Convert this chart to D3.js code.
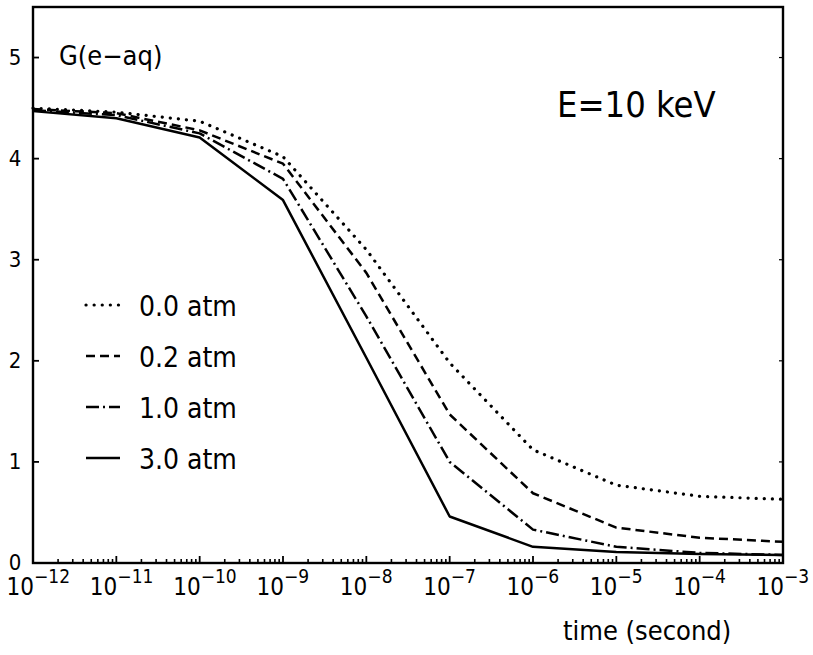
<!DOCTYPE html>
<html>
<head>
<meta charset="utf-8">
<script src="https://cdn.jsdelivr.net/npm/d3@7"></script>
<style>
	body { margin: 0; background: #fff; }
	svg text { font-family: "DejaVu Sans Condensed", "DejaVu Sans", sans-serif; fill: #000; }
</style>
</head>
<body>
<div id="chart"></div>
<script>
// time points (s), one per decade
const times = [1e-12, 1e-11, 1e-10, 1e-9, 1e-8, 1e-7, 1e-6, 1e-5, 1e-4, 1e-3];

// G(e-aq) for each pressure
const g00 = [4.50, 4.46, 4.37, 4.02, 3.10, 1.98, 1.12, 0.77, 0.66, 0.63];
const g02 = [4.49, 4.45, 4.28, 3.95, 2.87, 1.47, 0.69, 0.35, 0.25, 0.21];
const g10 = [4.48, 4.43, 4.25, 3.80, 2.44, 1.00, 0.33, 0.16, 0.10, 0.08];
const g30 = [4.47, 4.40, 4.21, 3.59, 2.03, 0.46, 0.16, 0.11, 0.09, 0.08];

const seriesLabels = ["0.0 atm", "0.2 atm", "1.0 atm", "3.0 atm"];
const yTicks = [0, 1, 2, 3, 4, 5];
const xExponents = [-12, -11, -10, -9, -8, -7, -6, -5, -4, -3];

const series = [
	{ label: seriesLabels[0], values: g00, dash: "0.1 8", width: 3.2, cap: "round" },
	{ label: seriesLabels[1], values: g02, dash: "9 5", width: 2.5, cap: "butt" },
	{ label: seriesLabels[2], values: g10, dash: "13 4 2 4", width: 2.5, cap: "butt" },
	{ label: seriesLabels[3], values: g30, dash: null, width: 2.5, cap: "butt" }
];

const svg = d3.select("#chart")
	.append("svg")
	.attr("width", 813)
	.attr("height", 655);

const x = d3.scaleLog()
	.domain([1e-12, 1e-3])
	.range([33, 783]);

const y = d3.scaleLinear()
	.domain([0, 5.5])
	.range([563, 7]);

// frame
svg.append("rect")
	.attr("x", x.range()[0])
	.attr("y", y.range()[1])
	.attr("width", x.range()[1] - x.range()[0])
	.attr("height", y.range()[0] - y.range()[1])
	.attr("fill", "none")
	.attr("stroke", "#000")
	.attr("stroke-width", 2.4);

// bottom axis: major and minor ticks pointing inward
const minor = [];
for (let e = -12; e < -3; e++) {
	for (let m = 2; m <= 9; m++) minor.push(m * Math.pow(10, e));
}

svg.append("g")
	.selectAll("line")
	.data(minor)
	.enter()
	.append("line")
	.attr("x1", (d) => x(d))
	.attr("x2", (d) => x(d))
	.attr("y1", y(0))
	.attr("y2", y(0) - 4)
	.attr("stroke", "#000")
	.attr("stroke-width", 1.6);

svg.append("g")
	.selectAll("line")
	.data(xExponents)
	.enter()
	.append("line")
	.attr("x1", (d) => x(Math.pow(10, d)))
	.attr("x2", (d) => x(Math.pow(10, d)))
	.attr("y1", y(0))
	.attr("y2", y(0) - 7)
	.attr("stroke", "#000")
	.attr("stroke-width", 1.8);

// "10" sits left of the tick, exponent right of it
const xLabels = svg.append("g")
	.selectAll("g")
	.data(xExponents)
	.enter()
	.append("g");

xLabels.append("text")
	.attr("x", (d) => x(Math.pow(10, d)) + 1)
	.attr("y", 595)
	.attr("text-anchor", "end")
	.style("font-size", "24px")
	.text("10");

xLabels.append("text")
	.attr("x", (d) => x(Math.pow(10, d)) + 1)
	.attr("y", 583)
	.style("font-size", "19px")
	.text((d) => "\u2212" + Math.abs(d));

// left axis
svg.append("g")
	.selectAll("line")
	.data(yTicks)
	.enter()
	.append("line")
	.attr("x1", x.range()[0])
	.attr("x2", x.range()[0] + 6)
	.attr("y1", (d) => y(d))
	.attr("y2", (d) => y(d))
	.attr("stroke", "#000")
	.attr("stroke-width", 1.8);

// right border has small inward ticks too
svg.append("g")
	.selectAll("line")
	.data(yTicks)
	.enter()
	.append("line")
	.attr("x1", x.range()[1])
	.attr("x2", x.range()[1] - 4)
	.attr("y1", (d) => y(d))
	.attr("y2", (d) => y(d))
	.attr("stroke", "#000")
	.attr("stroke-width", 1.2);

svg.append("g")
	.selectAll("text")
	.data(yTicks)
	.enter()
	.append("text")
	.attr("x", 15)
	.attr("y", (d) => y(d) + 7)
	.attr("text-anchor", "middle")
	.style("font-size", "22px")
	.text((d) => d);

// curves
const line = d3.line()
	.x((d, i) => x(times[i]))
	.y((d) => y(d));

svg.append("g")
	.selectAll("path")
	.data(series)
	.enter()
	.append("path")
	.attr("d", (d) => line(d.values))
	.attr("fill", "none")
	.attr("stroke", "#000")
	.attr("stroke-width", (d) => d.width)
	.attr("stroke-linecap", (d) => d.cap)
	.attr("stroke-linejoin", "round")
	.attr("stroke-dasharray", (d) => d.dash);

// legend
const legend = svg.append("g")
	.selectAll("g")
	.data(series)
	.enter()
	.append("g")
	.attr("transform", (d, i) => "translate(0," + (305 + i * 51) + ")");

legend.append("line")
	.attr("x1", 86)
	.attr("x2", 120)
	.attr("y1", 0)
	.attr("y2", 0)
	.attr("stroke", "#000")
	.attr("stroke-width", (d) => d.width)
	.attr("stroke-linecap", (d) => d.cap)
	.attr("stroke-dasharray", (d) => d.dash);

legend.append("text")
	.attr("x", 139)
	.attr("y", 11)
	.style("font-size", "28px")
	.text((d) => d.label);

// annotations
svg.append("text")
	.attr("x", 59)
	.attr("y", 65)
	.style("font-size", "27px")
	.text("G(e\u2212aq)");

svg.append("text")
	.attr("x", 557)
	.attr("y", 117)
	.style("font-size", "36px")
	.text("E=10 keV");

svg.append("text")
	.attr("x", 563)
	.attr("y", 640)
	.style("font-size", "27px")
	.text("time (second)");
</script>
</body>
</html>
